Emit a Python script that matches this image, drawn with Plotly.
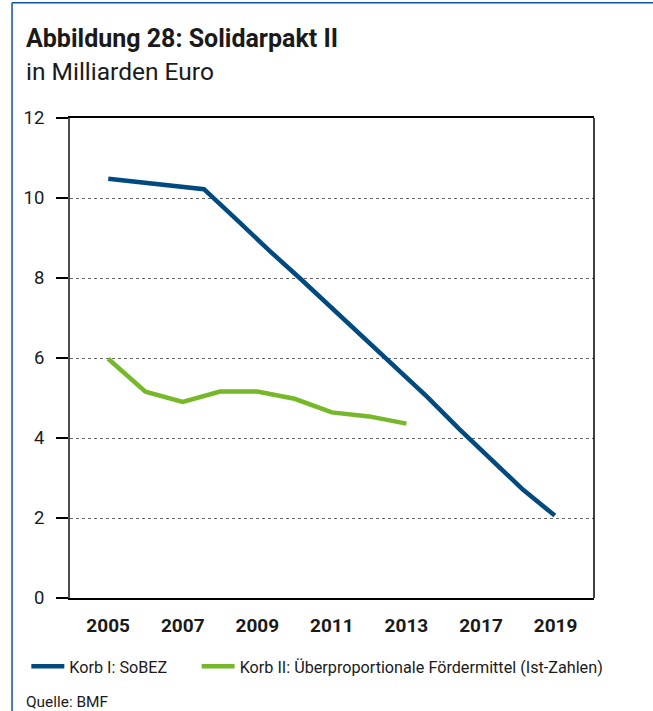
import plotly.graph_objects as go

# ---------------- data ----------------
years_korb1 = [2005, 2006, 2007, 2008, 2009, 2010, 2011, 2012, 2013, 2014, 2015, 2016, 2017, 2018, 2019]
korb1_sobez = [10.48, 10.40, 10.31, 10.22, 9.48, 8.72, 8.00, 7.26, 6.51, 5.77, 5.03, 4.23, 3.47, 2.71, 2.06]

years_korb2 = [2005, 2006, 2007, 2008, 2009, 2010, 2011, 2012, 2013]
korb2_foerder = [5.98, 5.16, 4.90, 5.16, 5.16, 4.98, 4.64, 4.54, 4.36]

tick_labels = ["2005", "2007", "2009", "2011", "2013", "2017", "2019"]
y_ticks = [0, 2, 4, 6, 8, 10, 12]

name1 = "Korb I: SoBEZ"
name2 = "Korb II: Überproportionale Fördermittel (Ist-Zahlen)"

# ---------------- layout geometry (pixels) ----------------
W, H = 653, 711
L, R, T, B = 70, 594.3, 118.3, 598.3   # plot area edges


def px(x):
    return (x - L) / (R - L)


def py(y):
    return (B - y) / (B - T)


# category-style axis of the original (one slot per year of Korb II, labels every 2nd slot)
X_MAIN_RANGE = [2003.976, 2018.032]
# Korb I is spread over the same width with its own (denser) spacing
X_K1_RANGE = [2003.8, 2020.23]

label_pos = [years_korb2[0] + 2 * k for k in range(len(tick_labels))]

FONT = "Roboto, Liberation Sans, Noto Sans, sans-serif"
BLUE = "#004a7f"
GREEN = "#77b82a"
FRAME_BLUE = "#0f5594"
TXT = "#1a1a1a"

fig = go.Figure()

fig.add_trace(go.Scatter(
    x=years_korb1, y=korb1_sobez, name=name1, mode="lines",
    line=dict(color=BLUE, width=4.5), xaxis="x2", yaxis="y", legend="legend",
))
fig.add_trace(go.Scatter(
    x=years_korb2, y=korb2_foerder, name=name2, mode="lines",
    line=dict(color=GREEN, width=4.5), xaxis="x", yaxis="y", legend="legend2",
))

legend_common = dict(
    orientation="h", xanchor="left", y=py(667), yanchor="middle",
    font=dict(size=16.2, family=FONT, color=TXT),
    bgcolor="rgba(0,0,0,0)", borderwidth=0, itemwidth=33,
)

fig.update_layout(
    width=W, height=H,
    margin=dict(l=L, r=W - R, t=T, b=H - B, pad=0),
    paper_bgcolor="white", plot_bgcolor="white",
    font=dict(family=FONT, color=TXT),
    showlegend=True,
    legend=dict(x=px(26.3), **legend_common),
    legend2=dict(x=px(196.7), **legend_common),
    xaxis=dict(
        range=X_MAIN_RANGE, tickmode="array",
        tickvals=label_pos, ticktext=tick_labels,
        showgrid=False, zeroline=False, ticks="",
        showline=True, linecolor="black", linewidth=1.5, mirror=True,
        tickfont=dict(size=19, family=FONT, color=TXT, weight="bold"),
        ticklabelstandoff=9, fixedrange=True,
    ),
    xaxis2=dict(range=X_K1_RANGE, overlaying="x", visible=False, fixedrange=True),
    yaxis=dict(
        range=[0, 12], tickmode="array", tickvals=y_ticks,
        showgrid=True, gridcolor="#666666", gridwidth=1, griddash="dot",
        zeroline=False, showline=True, linecolor="#4d4d4d", linewidth=2,
        ticks="outside", ticklen=12, tickcolor="black", tickwidth=1.5,
        tickfont=dict(size=18.5, family=FONT, color=TXT),
        ticklabelstandoff=8, fixedrange=True,
    ),
)

# right frame line of the plot area
fig.add_shape(type="line", xref="paper", yref="paper", x0=1, x1=1, y0=0, y1=1,
              line=dict(color="black", width=1.5))

# outer blue border (left + top)
fig.add_shape(type="line", xref="paper", yref="paper",
              x0=px(12), x1=px(12), y0=py(3), y1=py(730),
              line=dict(color=FRAME_BLUE, width=1.5))
fig.add_shape(type="line", xref="paper", yref="paper",
              x0=px(12), x1=px(680), y0=py(3), y1=py(3),
              line=dict(color=FRAME_BLUE, width=1.5))

# titles
fig.add_annotation(text="<b>Abbildung 28: Solidarpakt II</b>", xref="paper", yref="paper",
                   x=px(24), y=py(38.5), xanchor="left", yanchor="middle", showarrow=False,
                   font=dict(size=25, family=FONT, color=TXT))
fig.add_annotation(text="in Milliarden Euro", xref="paper", yref="paper",
                   x=px(24), y=py(72), xanchor="left", yanchor="middle", showarrow=False,
                   font=dict(size=24.5, family=FONT, color=TXT))
fig.add_annotation(text="Quelle: BMF", xref="paper", yref="paper",
                   x=px(23.7), y=py(702), xanchor="left", yanchor="middle", showarrow=False,
                   font=dict(size=15.4, family=FONT, color=TXT))

fig.write_html("out.html", post_script="document.body.style.margin='0';",
               config={"displayModeBar": False})
